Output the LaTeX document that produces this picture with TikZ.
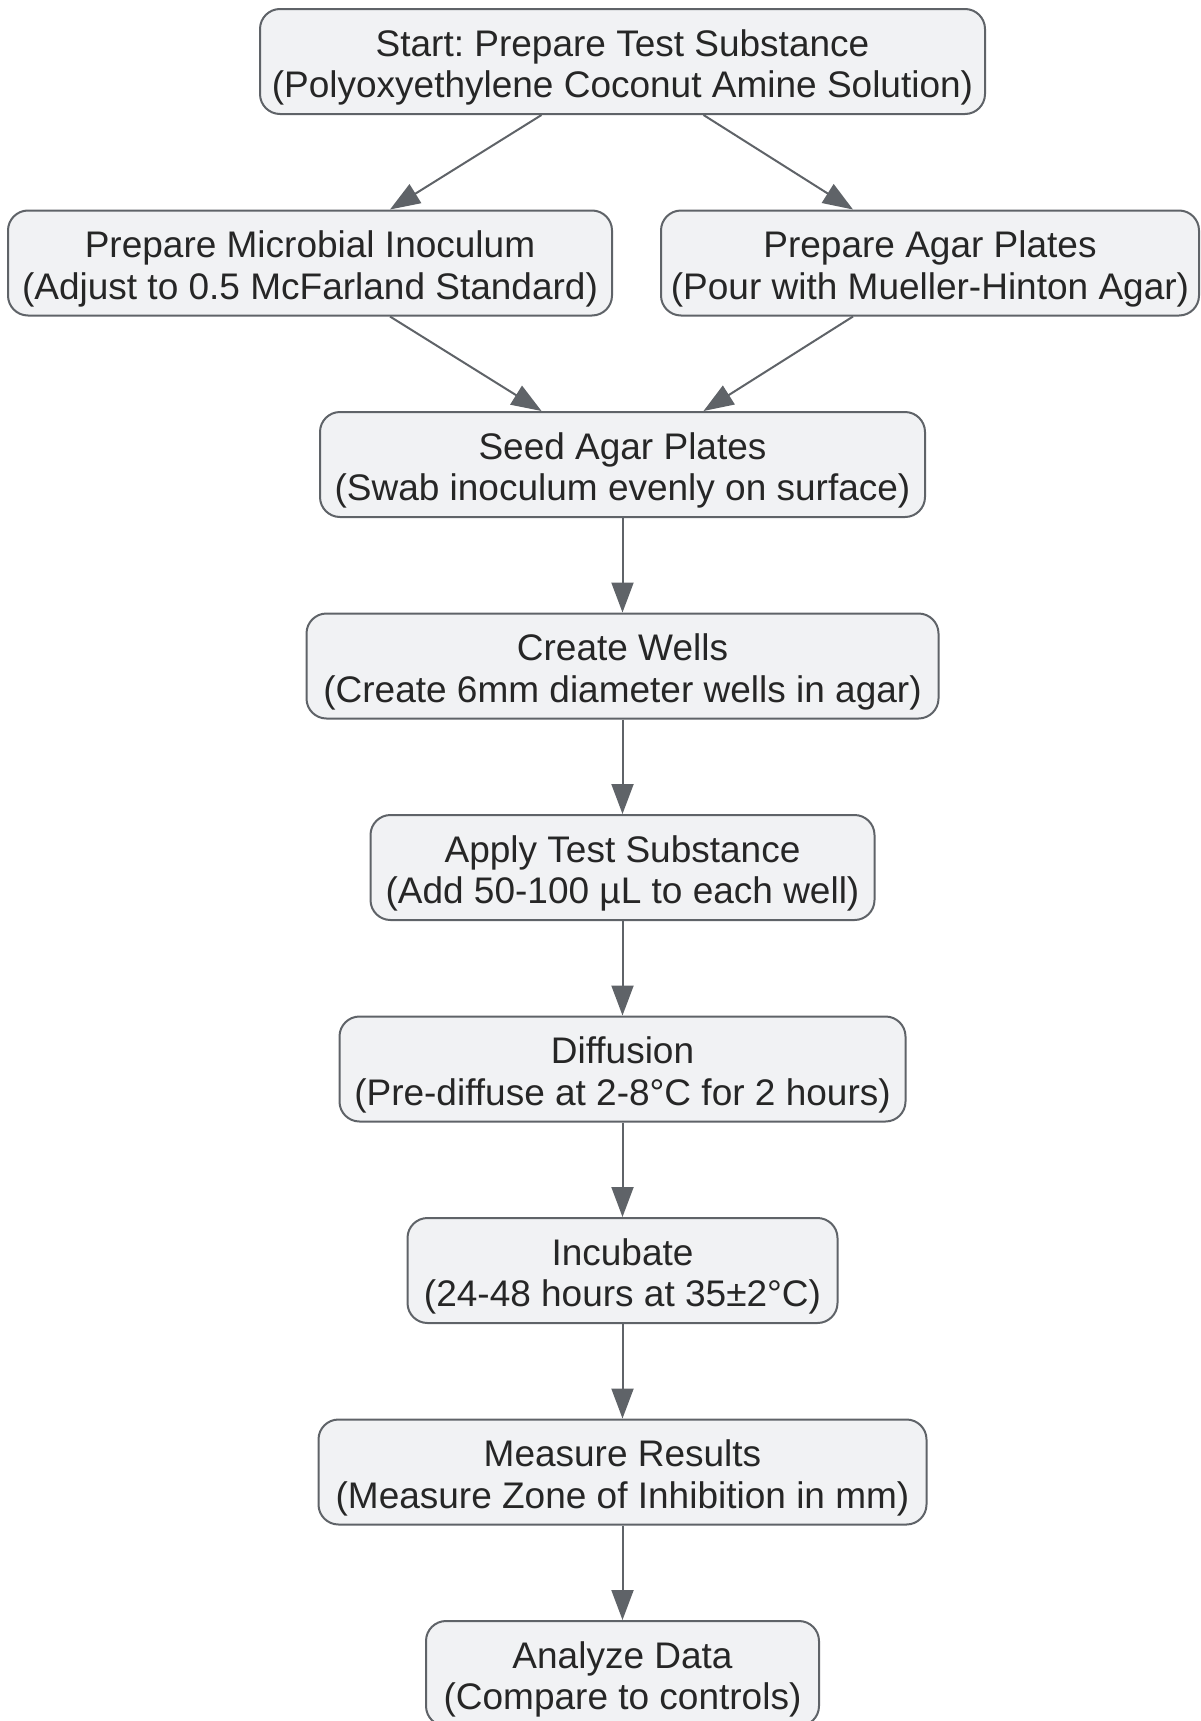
\documentclass[tikz,border=0pt]{standalone}
\usepackage{fontspec}
\setmainfont{Liberation Sans}
\usetikzlibrary{arrows.meta,calc}
\definecolor{boxfill}{HTML}{F1F2F4}
\definecolor{boxline}{HTML}{5F6368}
\definecolor{txt}{HTML}{262626}
\newcommand{\tstrut}{\rule{0pt}{39pt}}
\tikzset{
  stepbox/.style={draw=boxline, fill=boxfill, line width=2pt, rounded corners=20pt,
    minimum height=105pt, inner sep=0pt, align=center, text=txt,
    font=\fontsize{37pt}{41.5pt}\selectfont\frenchspacing},
  conn/.style={draw=boxline, line width=2pt, -{Triangle[length=30pt,width=22pt]}}
}
\begin{document}
\begin{tikzpicture}[x=1pt,y=-1pt]
\useasboundingbox (0,0) rectangle (1200,1721);
\node[stepbox, minimum width=725pt] (start) at (622.5,61.5) {\tstrut Start: Prepare Test Substance\\(Polyoxyethylene Coconut Amine Solution)};
\node[stepbox, minimum width=604pt] (micro) at (310,263) {\tstrut Prepare Microbial Inoculum\\(Adjust to 0.5 McFarland Standard)};
\node[stepbox, minimum width=538pt] (agar) at (930,263) {\tstrut Prepare Agar Plates\\(Pour with Mueller-Hinton Agar)};
\node[stepbox, minimum width=605pt] (seed) at (622.5,464.5) {\tstrut Seed Agar Plates\\(Swab inoculum evenly on surface)};
\node[stepbox, minimum width=632pt] (wells) at (622.5,666) {\tstrut Create Wells\\(Create 6mm diameter wells in agar)};
\node[stepbox, minimum width=504pt] (apply) at (622.5,867.5) {\tstrut Apply Test Substance\\(Add 50-100 µL to each well)};
\node[stepbox, minimum width=566pt] (diff) at (622.5,1069) {\tstrut Diffusion\\(Pre-diffuse at 2-8°C for 2 hours)};
\node[stepbox, minimum width=430pt] (incub) at (622.5,1270.5) {\tstrut Incubate\\(24-48 hours at 35±2°C)};
\node[stepbox, minimum width=608pt] (meas) at (622.5,1472) {\tstrut Measure Results\\(Measure Zone of Inhibition in mm)};
\node[stepbox, minimum width=393pt] (anal) at (622.5,1673.5) {\tstrut Analyze Data\\(Compare to controls)};

\draw[conn] ([xshift=-81pt]start.south) -- ([xshift=80pt]micro.north);
\draw[conn] ([xshift=81pt]start.south) -- ([xshift=-77pt]agar.north);
\draw[conn] ([xshift=80pt]micro.south) -- ([xshift=-81pt]seed.north);
\draw[conn] ([xshift=-77pt]agar.south) -- ([xshift=81pt]seed.north);
\draw[conn] (seed) -- (wells);
\draw[conn] (wells) -- (apply);
\draw[conn] (apply) -- (diff);
\draw[conn] (diff) -- (incub);
\draw[conn] (incub) -- (meas);
\draw[conn] (meas) -- (anal);
\end{tikzpicture}
\end{document}
